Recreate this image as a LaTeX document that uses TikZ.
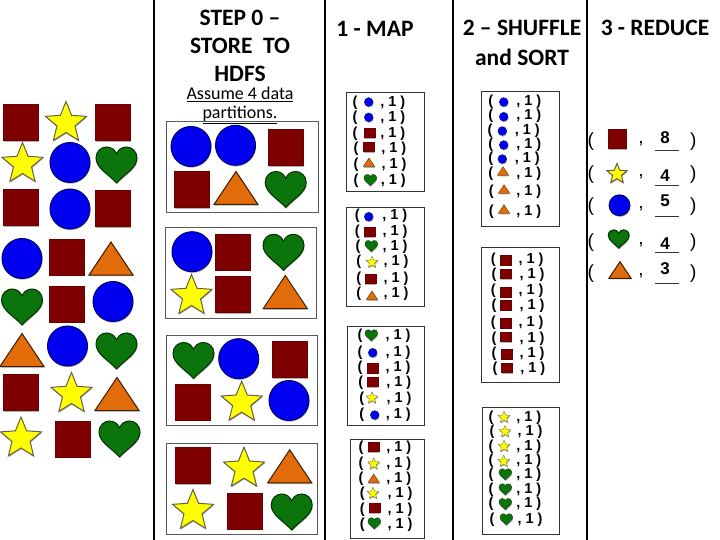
\documentclass[tikz,border=0pt]{standalone}
\usepackage{fontspec}
\usepackage{xcolor}
\usepackage{tikz}
\usetikzlibrary{shadows}
\setmainfont{Carlito}
\newfontfamily\pairfont{Liberation Sans}
\definecolor{sqred}{HTML}{7F0000}
\definecolor{ciblue}{HTML}{0000F0}
\definecolor{styellow}{HTML}{FFFF00}
\definecolor{hegreen}{HTML}{0B750B}
\definecolor{trorange}{HTML}{E36C0A}
\tikzset{
    softshade/.style={drop shadow={shadow xshift=.5pt, shadow yshift=-1.2pt, opacity=.3, fill=black}},
    sqtok/.style={fill=sqred, draw=sqred!85!black, softshade},
    citok/.style={fill=ciblue, draw=blue!45!black, softshade},
    sttok/.style={fill=styellow, draw=yellow!30!black, softshade},
    hetok/.style={fill=hegreen, draw=green!20!black, softshade},
    trtok/.style={fill=trorange, draw=orange!25!black, softshade},
    heading/.style={font=\fontsize{23.5}{23.5}\selectfont\bfseries, inner sep=0pt},
    note/.style={font=\fontsize{18}{18}\selectfont, inner sep=0pt},
    colline/.style={line width=2.2pt, black},
    partbox/.style={draw=black!65, line width=1pt},
    pairbox/.style={draw=black!80, line width=.8pt},
    pairtext/.style={font=\pairfont\fontsize{14.5}{14.5}\selectfont\bfseries, inner sep=0pt},
    redtext/.style={font=\pairfont\fontsize{19}{19}\selectfont, inner sep=0pt},
    rednum/.style={font=\pairfont\fontsize{17}{17}\selectfont\bfseries, inner sep=0pt},
    pics/sq/.style={code={\draw[sqtok] (-17.5,-18) rectangle (17.5,18);}},
    pics/ci/.style={code={\draw[citok] (0,0) circle[radius=20];}},
    pics/st/.style={code={\draw[sttok, shift={(0,2)}] (-90:21.5) -- (-54:9.5) -- (-18:21.5) -- (18:9.5) -- (54:21.5) -- (90:9.5) -- (126:21.5) -- (162:9.5) -- (198:21.5) -- (234:9.5) -- cycle;}},
    pics/he/.style={code={\draw[hetok] (0,18) .. controls (-8,9) and (-20.5,3) .. (-20.5,-7) .. controls (-20.5,-14) and (-15,-18) .. (-10,-18) .. controls (-5,-18) and (-1.5,-15) .. (0,-11) .. controls (1.5,-15) and (5,-18) .. (10,-18) .. controls (15,-18) and (20.5,-14) .. (20.5,-7) .. controls (20.5,3) and (8,9) .. (0,18) -- cycle;}},
    pics/tr/.style={code={\draw[trtok] (0,-16.5) -- (22,16.5) -- (-22,16.5) -- cycle;}},
    pics/ssq/.style={code={\pic[xscale=.31, yscale=.27, line width=.3pt] {sq};}},
    pics/sci/.style={code={\pic[scale=.22, line width=.3pt] {ci};}},
    pics/sst/.style={code={\pic[scale=.29, line width=.3pt] {st};}},
    pics/she/.style={code={\pic[scale=.31, line width=.3pt] {he};}},
    pics/str/.style={code={\pic[scale=.26, line width=.3pt] {tr};}}
}

\begin{document}
\begin{tikzpicture}[x=1pt, y=-1pt, line width=1pt]
    \useasboundingbox (0,0) rectangle (720,540);

    % Column rules
    \foreach \cx in {154, 325, 453.3, 587}
        \draw[colline] (\cx,0) -- (\cx,540);

    % Headings
    \node[heading] at (240,18) {STEP 0 --};
    \node[heading] at (240,45.5) {STORE\ \ TO};
    \node[heading] at (240,74) {HDFS};
    \node[note] at (240,94.5) {\underline{Assume 4 data}};
    \node[note] at (240,115) {\underline{partitions.}};
    \node[heading] at (375,29) {1 - MAP};
    \node[heading] at (522,28) {2 -- SHUFFLE};
    \node[heading] at (522,57) {and SORT};
    \node[heading] at (655,28) {3 - REDUCE};

    % Loose shapes
    \foreach \kind/\px/\py in {sq/20.5/123, st/66/121, sq/112.5/123,
        st/22.5/162, ci/70/162.5, he/116.5/165,
        sq/20.5/208, ci/70/209, sq/112.5/209,
        ci/22/258.5, sq/66.5/257, tr/111/258.5,
        he/22/307, sq/67/304, ci/113/301.5,
        tr/22/350, ci/67.5/346, he/116.5/351,
        sq/20.5/392.5, st/71.5/392, tr/117/394,
        st/21/436.5, sq/72.5/439, he/119.5/439}
        \pic at (\px,\py) {\kind};

    % Step 0 partitions
    \draw[partbox] (166.7,122) rectangle (318.3,212.7);
    \draw[partbox] (165,227.3) rectangle (316.7,318);
    \draw[partbox] (166,335) rectangle (317.7,425.3);
    \draw[partbox] (166,443.7) rectangle (317.7,534);
    \foreach \kind/\px/\py in {ci/191/146.5, ci/235.5/145.3, sq/285.7/148,
        sq/191.5/189.5, tr/236/188, he/285.7/189.5,
        ci/192/251.7, sq/233.3/252, he/283.5/252.3,
        st/191.5/294, sq/233.3/294.7, tr/285.3/292,
        he/193.5/360.5, ci/238.7/358.7, sq/289.7/359.7,
        sq/192.7/402, st/241.7/400.7, ci/289/400.5,
        sq/192.7/465.3, st/244/466.7, tr/289.7/466.3,
        st/193/509, sq/244.7/511, he/291.7/512}
        \pic at (\px,\py) {\kind};

    % Map and shuffle boxes
    \draw[pairbox] (346.7,92.7) rectangle (424.7,191.7);
    \draw[pairbox] (346.7,207.3) rectangle (424.7,306.7);
    \draw[pairbox] (347.7,326.7) rectangle (424.7,425.3);
    \draw[pairbox] (350.7,439.3) rectangle (424.7,538.3);
    \draw[pairbox] (481.7,91.7) rectangle (559.3,226);
    \draw[pairbox] (481.7,247.7) rectangle (559.3,382.7);
    \draw[pairbox] (482.7,407.3) rectangle (559.3,534);

    % Key value rows
    \foreach \kx/\kind/\tx/\ty/\vx/\vy in {
        355/sci/368.7/102/392.7/102.7, 355/sci/368.7/117.3/392.7/118,
        355/ssq/369.3/132.7/392.7/133.3, 356/ssq/368.7/146.7/393.8/148.7,
        356/str/369/162.3/394/164.3, 356/she/370.3/180/393.3/181,
        357.3/sci/368.7/216.7/394.7/215.7, 357.3/ssq/369.3/231.7/395/231.7,
        358/she/371.3/246/395/246.3, 358.7/sst/372/261.7/396/261.7,
        358.7/ssq/370.3/278.7/396/278.3, 358.7/str/372/295.3/396/293.3,
        360/she/371.3/335.3/398/336, 360/sci/372.7/352.7/398/352.7,
        360/ssq/372.3/368.3/398/367.3, 360.7/ssq/372.3/381.7/398.7/382.3,
        361.7/sst/372/397.3/399/398.3, 361.7/sci/374.7/415/398.3/415,
        361/ssq/373.3/446.7/398.7/447.3, 361/sst/373.7/463.3/398.7/463.3,
        361/str/373.7/478.3/398.7/478.3, 362.3/sst/373/492.7/400/493.3,
        362.3/ssq/374.3/507.7/400/509.3, 362.3/she/374.3/523.3/400/525,
        490.7/sci/503.7/102/528.7/101.7, 490.7/sci/503.7/116.7/528.7/116,
        490/sci/502.3/131/527.3/130.3, 490.7/sci/503.7/145/528.7/144.3,
        490.7/sci/502.3/159/527.3/158.7, 490.7/str/503/171/528.7/174,
        491.3/str/504/189/528.7/191.7, 491.3/str/504/209/528.7/211.7,
        493.3/ssq/505.3/260.3/531/260, 494/ssq/505.7/273.7/532/275,
        493.3/ssq/505.7/292.3/531/291, 494/ssq/505.7/305/532/306,
        493.3/ssq/505.7/323.3/531/322.7, 494/ssq/505.7/336.7/532/338.3,
        494/ssq/506.7/354.3/532/353.3, 495/ssq/506.7/367.7/532.7/368.7,
        491/sst/504/416.7/528.7/417.3, 492/sst/505/431/530/431.7,
        491/sst/504/445.7/528.7/446.7, 491/sst/503.7/460.7/528.7/461,
        491/she/505.3/474.3/528.7/474.3, 491/she/505.3/489.3/528.7/489.3,
        491/she/505.3/504/528.7/504, 492/she/506.3/519.3/530/519.3}
    {
        \node[pairtext] at (\kx,\vy) {(};
        \pic at (\tx,\ty) {\kind};
        \node[pairtext] at (\vx,\vy) {,\hspace{.27em}1\hspace{.27em})};
    }

    % Reduce totals
    \pic[scale=.52] at (617.8,139) {sq};
    \pic[scale=.49] at (617,173) {st};
    \pic[scale=.52] at (619.5,205.3) {ci};
    \pic[scale=.51] at (618.7,239) {he};
    \pic[scale=.5] at (620,270) {tr};
    \foreach \num/\ny/\ry/\uy in {8/137.3/141.7/150, 4/175.7/175/185, 5/201/206.7/216, 4/243.3/242.7/252, 3/269/274/283} {
        \node[redtext] at (590.7,\ry) {(};
        \node[redtext] at (641,\ry+2) {,};
        \node[rednum] at (665,\ny) {\num};
        \draw[line width=.9pt, black!80] (655,\uy) -- (679,\uy);
        \node[redtext] at (693.3,\ry) {)};
    }
\end{tikzpicture}
\end{document}
